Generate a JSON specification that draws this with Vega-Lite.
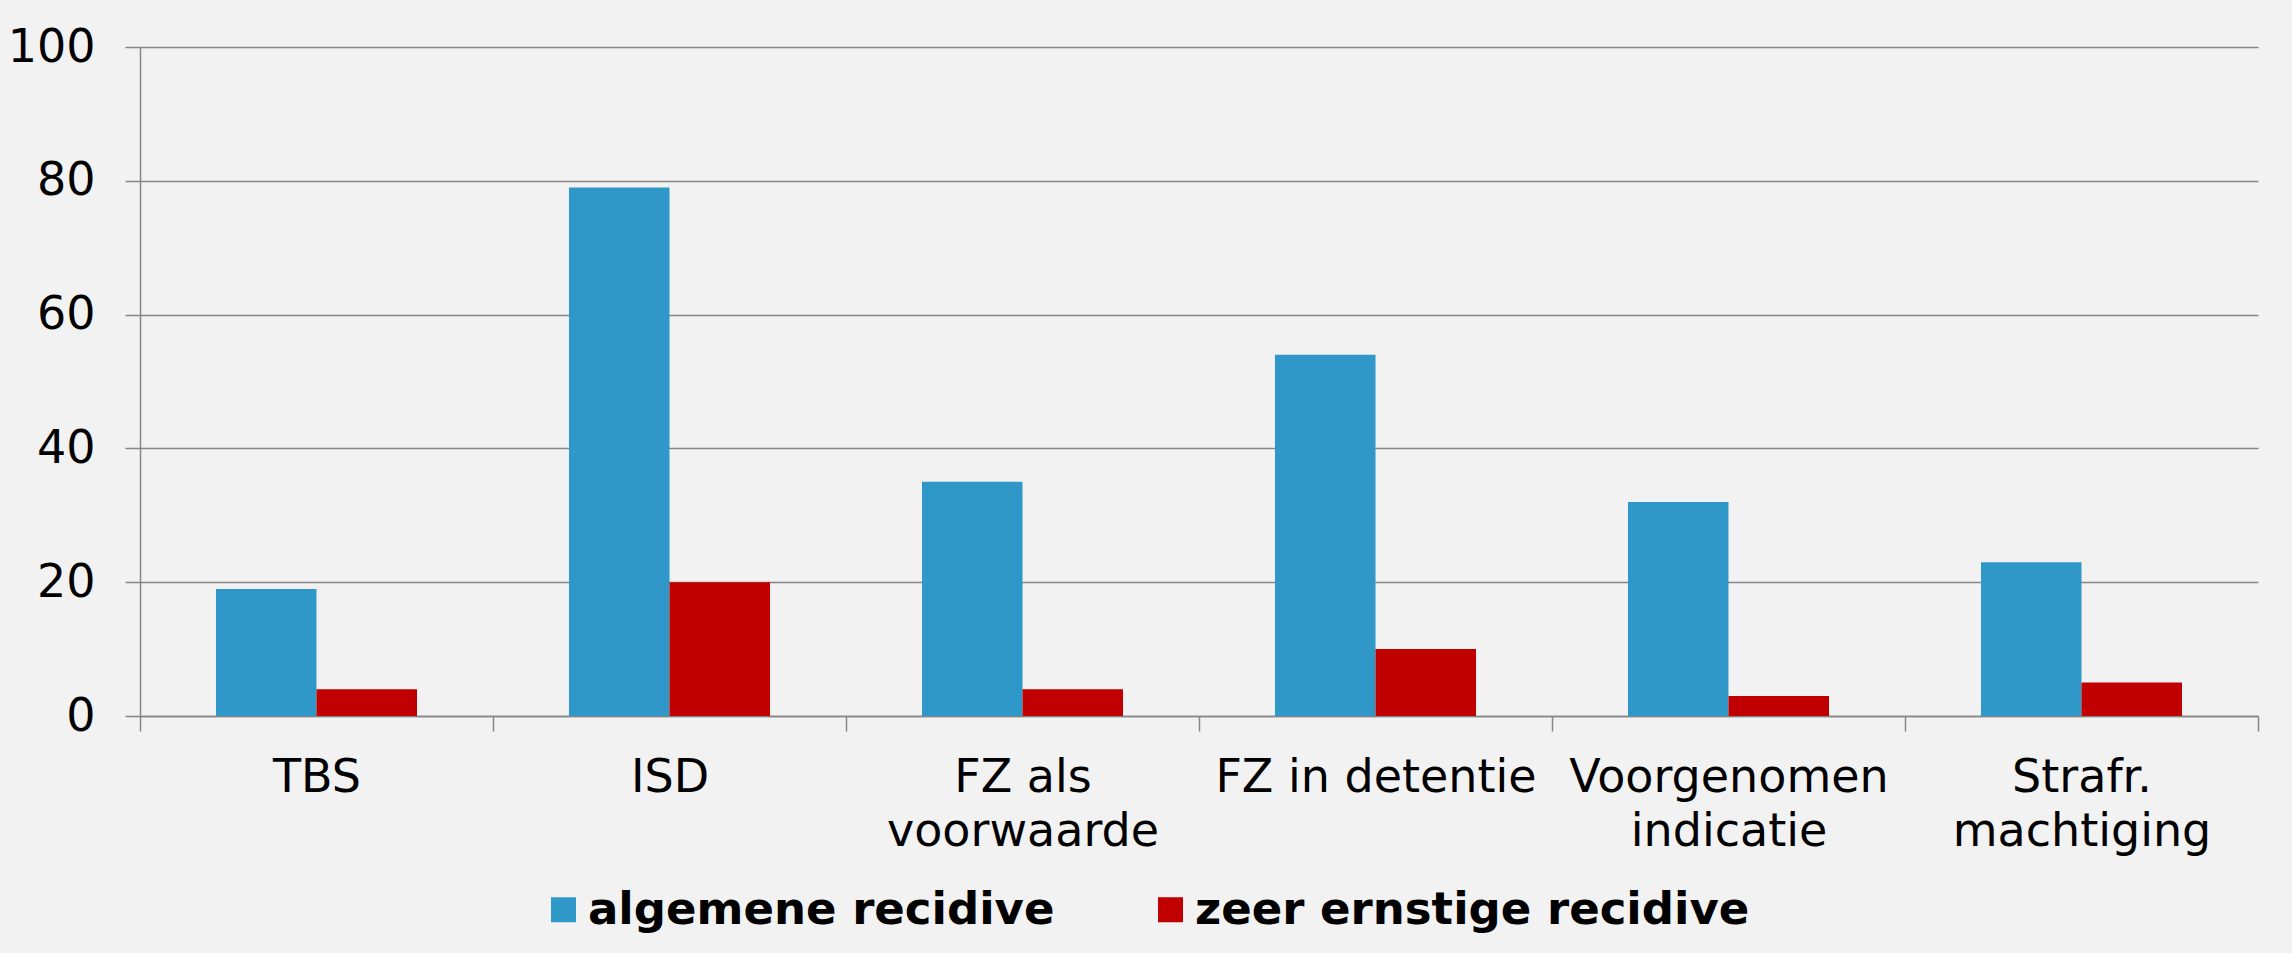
{
  "$schema": "https://vega.github.io/schema/vega-lite/v6.json",
  "width": 2118,
  "height": 669,
  "autosize": {"type": "none"},
  "padding": {"left": 140, "top": 47, "right": 34, "bottom": 237},
  "background": "#f2f2f2",
  "data": {
    "values": [
      {"categorie": "TBS", "reeks": "algemene recidive", "percentage": 19},
      {"categorie": "TBS", "reeks": "zeer ernstige recidive", "percentage": 4},
      {"categorie": "ISD", "reeks": "algemene recidive", "percentage": 79},
      {"categorie": "ISD", "reeks": "zeer ernstige recidive", "percentage": 20},
      {"categorie": "FZ als voorwaarde", "reeks": "algemene recidive", "percentage": 35},
      {"categorie": "FZ als voorwaarde", "reeks": "zeer ernstige recidive", "percentage": 4},
      {"categorie": "FZ in detentie", "reeks": "algemene recidive", "percentage": 54},
      {"categorie": "FZ in detentie", "reeks": "zeer ernstige recidive", "percentage": 10},
      {"categorie": "Voorgenomen indicatie", "reeks": "algemene recidive", "percentage": 32},
      {"categorie": "Voorgenomen indicatie", "reeks": "zeer ernstige recidive", "percentage": 3},
      {"categorie": "Strafr. machtiging", "reeks": "algemene recidive", "percentage": 23},
      {"categorie": "Strafr. machtiging", "reeks": "zeer ernstige recidive", "percentage": 5}
    ]
  },
  "mark": {"type": "bar"},
  "encoding": {
    "x": {
      "field": "categorie",
      "type": "nominal",
      "sort": null,
      "scale": {"paddingInner": 0, "paddingOuter": 0},
      "axis": {
        "title": null,
        "labelAngle": 0,
        "labelFont": "DejaVu Sans",
        "labelFontSize": 46,
        "labelColor": "#000000",
        "labelLineHeight": 54,
        "labelPadding": 24,
        "labelLimit": 1000,
        "labelExpr": "datum.label == 'FZ als voorwaarde' ? ['FZ als', 'voorwaarde'] : datum.label == 'Voorgenomen indicatie' ? ['Voorgenomen', 'indicatie'] : datum.label == 'Strafr. machtiging' ? ['Strafr.', 'machtiging'] : datum.label",
        "tickBand": "extent",
        "tickSize": 15,
        "tickColor": "#868686",
        "tickWidth": 1.5,
        "domainColor": "#868686",
        "domainWidth": 1.5,
        "grid": false
      }
    },
    "xOffset": {
      "field": "reeks",
      "type": "nominal",
      "sort": ["algemene recidive", "zeer ernstige recidive"],
      "scale": {"paddingInner": 0, "paddingOuter": 0.756}
    },
    "y": {
      "field": "percentage",
      "type": "quantitative",
      "scale": {"domain": [0, 100], "nice": false},
      "axis": {
        "title": null,
        "values": [0, 20, 40, 60, 80, 100],
        "labelFont": "DejaVu Sans",
        "labelFontSize": 46,
        "labelColor": "#000000",
        "labelPadding": 30,
        "tickSize": 15,
        "tickColor": "#868686",
        "tickWidth": 1.5,
        "domainColor": "#868686",
        "domainWidth": 1.5,
        "grid": true,
        "gridColor": "#868686",
        "gridWidth": 1.5
      }
    },
    "color": {
      "field": "reeks",
      "type": "nominal",
      "sort": ["algemene recidive", "zeer ernstige recidive"],
      "scale": {"domain": ["algemene recidive", "zeer ernstige recidive"], "range": ["#2f98c8", "#c00000"]},
      "legend": {
        "title": null,
        "orient": "none",
        "direction": "horizontal",
        "legendX": 401,
        "legendY": 840,
        "padding": 0,
        "symbolType": "square",
        "symbolSize": 625,
        "symbolStrokeWidth": 0,
        "symbolOpacity": 1,
        "labelFont": "DejaVu Sans",
        "labelFontSize": 45,
        "labelFontWeight": "bold",
        "labelColor": "#000000",
        "labelOffset": 2,
        "labelLimit": 1000,
        "columnPadding": 93
      }
    }
  },
  "config": {
    "view": {"stroke": null}
  }
}
